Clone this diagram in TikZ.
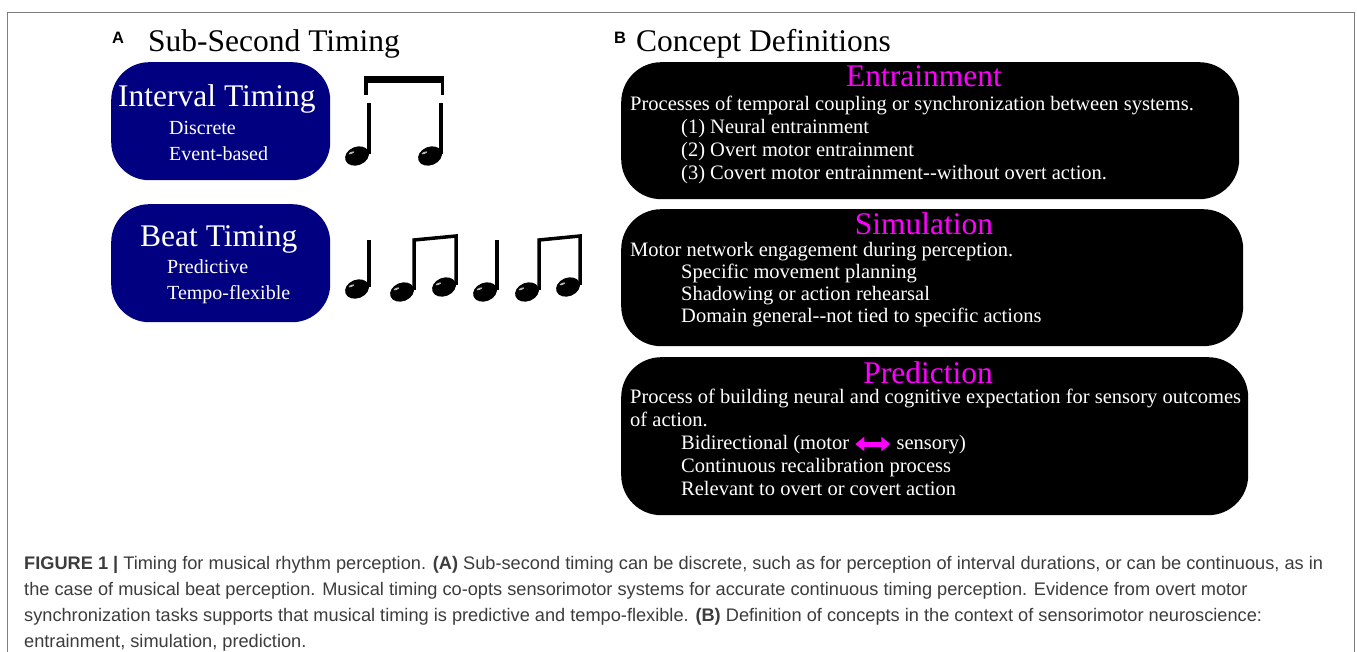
\documentclass[tikz,border=0pt]{standalone}
\usepackage{fontspec}
\setmainfont{Liberation Serif}
\setsansfont{Liberation Sans}
\usetikzlibrary{arrows.meta,calc}
\definecolor{navyb}{RGB}{0,0,128}
\definecolor{mag}{RGB}{255,0,255}
\definecolor{capgray}{RGB}{60,60,60}
\definecolor{framegray}{RGB}{125,125,125}
\tikzset{
  nhd/.pic={
    \fill[rotate=22] (0,0) ellipse [x radius=12.3, y radius=9.2];
    \fill[gray!55, rotate=22] (-4,-5) ellipse [x radius=3, y radius=1];
  }
}
\begin{document}
\begin{tikzpicture}[x=1pt,y=-1pt,
  bluebox/.style={fill=navyb, rounded corners=38pt, inner sep=0pt, anchor=north west},
  blackbox/.style={fill=black, rounded corners=40pt, inner sep=0pt, anchor=north west},
  bigt/.style={font=\fontsize{31.5}{36}\selectfont, inner sep=0pt, anchor=base west},
  bluet/.style={font=\fontsize{31.5}{36}\selectfont, text=white, inner sep=0pt, anchor=base west},
  body/.style={font=\fontsize{20}{24}\selectfont, text=white, inner sep=0pt, anchor=base west},
  rbody/.style={font=\fontsize{20.5}{24}\selectfont, text=white, inner sep=0pt, anchor=base west},
  ttl/.style={font=\fontsize{31.5}{36}\selectfont, text=mag, inner sep=0pt, anchor=base},
  panel/.style={font=\sffamily\bfseries\fontsize{16.5}{20}\selectfont, inner sep=0pt, anchor=base west},
  capt/.style={font=\sffamily\fontsize{18.2}{22}\selectfont, text=capgray, inner sep=0pt, anchor=base west},
  notestem/.style={line width=3.5pt, line join=miter},
]
\useasboundingbox (0,0) rectangle (1357,652);
\fill[white] (0,0) rectangle (1357,652);
% frame
\draw[framegray, line width=1.5pt] (7.5,652) -- (7.5,12.5) -- (1354.5,12.5) -- (1354.5,652);

% panel A
\node[panel] (labA) at (112,44) {A};
\node[bigt] (titA) at (148,52) {Sub-Second Timing};
\node[bluebox, minimum width=219pt, minimum height=118pt] (intbox) at (111,62) {};
\node[bluet] (intt) at (118,107) {Interval Timing};
\node[body] (int1) at (169,135) {Discrete};
\node[body] (int2) at (169,161) {Event-based};
\node[bluebox, minimum width=219pt, minimum height=118pt] (beatbox) at (111,204) {};
\node[bluet] (beatt) at (140,247) {Beat Timing};
\node[body] (beat1) at (167,274) {Predictive};
\node[body] (beat2) at (167,300) {Tempo-flexible};

% interval notes
\fill (364,76) rectangle (444,83);
\fill (364,76) rectangle (367.5,95);
\fill (440.5,76) rectangle (444,95);
\pic at (357,156) {nhd};
\draw[notestem] (369,103) -- (369,154);
\pic at (430,156) {nhd};
\draw[notestem] (441,103) -- (441,154);

% beat notes
\pic at (357,289) {nhd};
\draw[notestem] (369,240) -- (369,287);
\pic at (402,292) {nhd};
\pic at (444,287) {nhd};
\draw[notestem] (414,290) -- (414,240) -- (456,236) -- (456,285);
\pic at (485,292) {nhd};
\draw[notestem] (497,240) -- (497,290);
\pic at (527,292) {nhd};
\pic at (568,287) {nhd};
\draw[notestem] (539,290) -- (539,240) -- (580,236) -- (580,285);

% panel B
\node[panel] (labB) at (614,44) {B};
\node[bigt] (titB) at (636,52) {Concept Definitions};

\node[blackbox, minimum width=618pt, minimum height=137pt] (entbox) at (621,62) {};
\node[ttl] (entt) at (924,87) {Entrainment};
\node[rbody] (ent0) at (630,111) {Processes of temporal coupling or synchronization between systems.};
\node[rbody] (ent1) at (681,134) {(1) Neural entrainment};
\node[rbody] (ent2) at (681,157) {(2) Overt motor entrainment};
\node[rbody] (ent3) at (681,180) {(3) Covert motor entrainment-{}-without overt action.};

\node[blackbox, minimum width=622pt, minimum height=137pt] (simbox) at (621,209) {};
\node[ttl] (simt) at (924,235) {Simulation};
\node[rbody] (sim0) at (630,257) {Motor network engagement during perception.};
\node[rbody] (sim1) at (681,279) {Specific movement planning};
\node[rbody] (sim2) at (681,301) {Shadowing or action rehearsal};
\node[rbody] (sim3) at (681,323) {Domain general-{}-not tied to specific actions};

\node[blackbox, minimum width=627pt, minimum height=158pt] (prebox) at (621,357) {};
\node[ttl] (pret) at (928,383) {Prediction};
\node[rbody] (pre0) at (630,403) {Process of building neural and cognitive expectation for sensory outcomes};
\node[rbody] (pre0b) at (630,426) {of action.};
\node[rbody] (pre1) at (681,449) {Bidirectional (motor};
\node[rbody] (pre1b) at ($(pre1.base east)+(47,0)$) {sensory)};
\node[rbody] (pre2) at (681,472) {Continuous recalibration process};
\node[rbody] (pre3) at (681,495) {Relevant to overt or covert action};
\coordinate (arL) at ($(pre1.base east)+(6,-5)$);
\coordinate (arR) at ($(pre1b.base west)+(-6,-5)$);
\draw[mag, line width=5pt, {Triangle[length=9pt,width=14pt]}-{Triangle[length=9pt,width=14pt]}] (arL) -- (arR);

% caption
\node[capt] (cap1) at (24,569) {\textbf{FIGURE 1 |} Timing for musical rhythm perception. \textbf{(A)} Sub-second timing can be discrete, such as for perception of interval durations, or can be continuous, as in};
\node[capt] (cap2) at (24,595) {the case of musical beat perception. Musical timing co-opts sensorimotor systems for accurate continuous timing perception. Evidence from overt motor};
\node[capt] (cap3) at (24,621) {synchronization tasks supports that musical timing is predictive and tempo-flexible. \textbf{(B)} Definition of concepts in the context of sensorimotor neuroscience:};
\node[capt] (cap4) at (24,647) {entrainment, simulation, prediction.};
\end{tikzpicture}
\end{document}
